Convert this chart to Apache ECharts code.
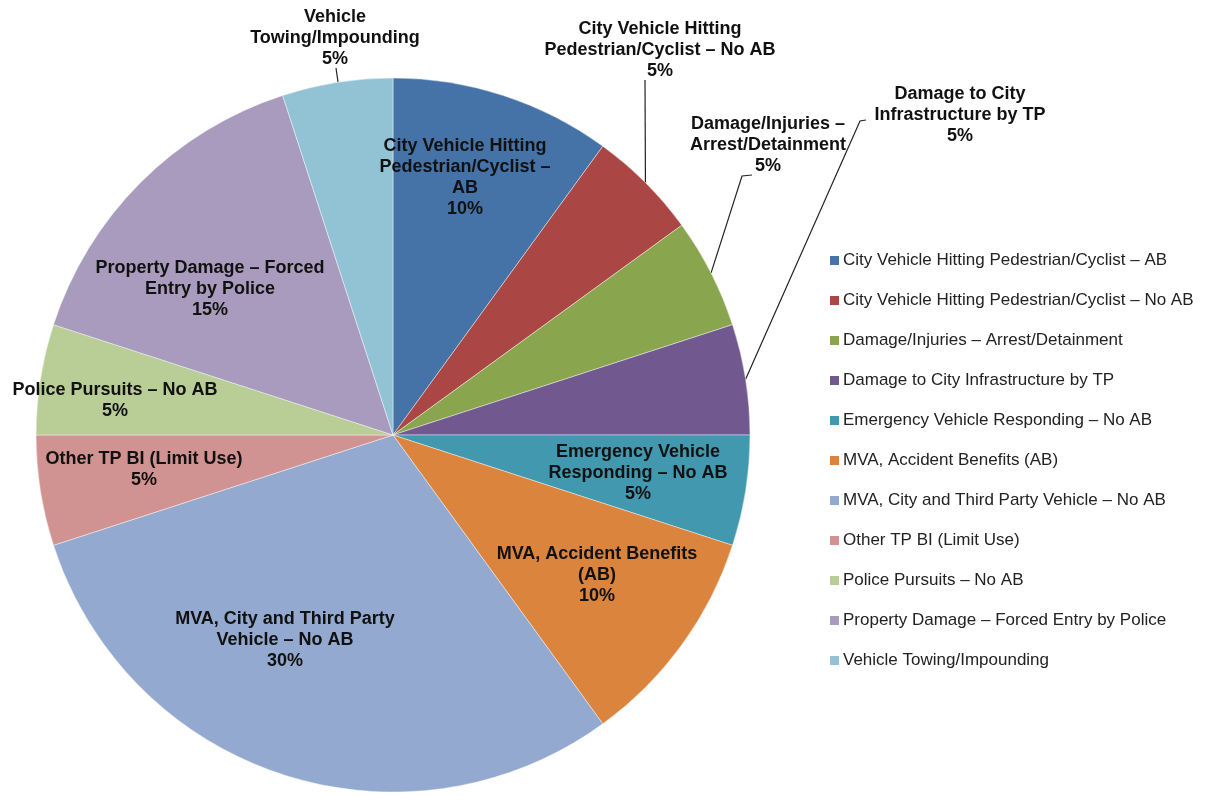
<!DOCTYPE html>
<html>
<head>
<meta charset="utf-8">
<script src="https://cdn.jsdelivr.net/npm/echarts@6/dist/echarts.min.js"></script>
<style>
  html, body { margin: 0; padding: 0; background: #fff; }
  #chart { width: 1212px; height: 796px; }
</style>
</head>
<body>
<div id="chart"></div>
<script>
// data
const categories = [
  'City Vehicle Hitting Pedestrian/Cyclist – AB',
  'City Vehicle Hitting Pedestrian/Cyclist – No AB',
  'Damage/Injuries – Arrest/Detainment',
  'Damage to City Infrastructure by TP',
  'Emergency Vehicle Responding – No AB',
  'MVA, Accident Benefits (AB)',
  'MVA, City and Third Party Vehicle – No AB',
  'Other TP BI (Limit Use)',
  'Police Pursuits – No AB',
  'Property Damage – Forced Entry by Police',
  'Vehicle Towing/Impounding'
];
const shares = [10, 5, 5, 5, 5, 10, 30, 5, 5, 15, 5];
// wrapped text used for the slice labels
const labelLines = [
  'City Vehicle Hitting\nPedestrian/Cyclist –\nAB',
  'City Vehicle Hitting\nPedestrian/Cyclist – No AB',
  'Damage/Injuries –\nArrest/Detainment',
  'Damage to City\nInfrastructure by TP',
  'Emergency Vehicle\nResponding – No AB',
  'MVA, Accident Benefits\n(AB)',
  'MVA, City and Third Party\nVehicle – No AB',
  'Other TP BI (Limit Use)',
  'Police Pursuits – No AB',
  'Property Damage – Forced\nEntry by Police',
  'Vehicle\nTowing/Impounding'
];

const colors = ['#4572a7', '#aa4643', '#89a54e', '#71588f', '#4198af', '#db843d',
  '#93a9cf', '#d19392', '#b9cd96', '#a99bbd', '#92c3d4'];

// layout
const CX = 393, CY = 435, R = 357;
const outsideIdx = [1, 2, 3, 10];
// label block centres, leader line elbow/end points
const labelPos = {
  0: [465, 178], 1: [660, 50], 2: [768, 145], 3: [960, 115],
  4: [638, 473], 5: [597, 575], 6: [285, 640], 7: [144, 470],
  8: [115, 401], 9: [210, 289], 10: [335, 38]
};
const leader = {
  1: [[645, 80], [645, 80]],
  2: [[742, 176], [752, 175]],
  3: [[860, 121], [866, 120]],
  10: [[336, 68], [336, 68]]
};

const total = shares.reduce((a, b) => a + b, 0);
function edgePoint(i) {
  let before = 0;
  for (let k = 0; k < i; k++) before += shares[k];
  const a = (before + shares[i] / 2) / total * Math.PI * 2;
  return [CX + R * Math.sin(a), CY - R * Math.cos(a)];
}

const chart = echarts.init(document.getElementById('chart'));
chart.setOption({
  animation: false,
  color: colors,
  legend: {
    orient: 'vertical',
    left: 830,
    top: 252,
    padding: 0,
    itemWidth: 9,
    itemHeight: 9,
    itemGap: 23,
    itemStyle: { borderWidth: 0 },
    icon: 'rect',
    textStyle: {
      fontFamily: 'Liberation Sans, Arial, sans-serif',
      fontSize: 17,
      lineHeight: 17,
      color: '#222',
      padding: [0, 0, 0, -1]
    },
    data: categories
  },
  series: [{
    type: 'pie',
    center: [CX, CY],
    radius: [0, R],
    startAngle: 90,
    clockwise: true,
    avoidLabelOverlap: false,
    itemStyle: { borderColor: 'rgba(255,255,255,0.6)', borderWidth: 0.7 },
    label: {
      show: true,
      position: 'inside',
      fontFamily: 'Liberation Sans, Arial, sans-serif',
      fontWeight: 'bold',
      fontSize: 18,
      lineHeight: 21,
      color: '#111',
      align: 'center',
      formatter: p => labelLines[p.dataIndex] + '\n' + p.value + '%'
    },
    labelLine: { show: false },
    labelLayout: function (params) {
      const i = params.dataIndex;
      const pos = labelPos[i];
      const out = { x: pos[0], y: pos[1], align: 'center', verticalAlign: 'middle' };
      if (leader[i]) {
        let start;
        if (i === 10) start = [338, 82];
        else start = (params.labelLinePoints && params.labelLinePoints[0]) || edgePoint(i);
        out.labelLinePoints = [start, leader[i][0], leader[i][1]];
      }
      return out;
    },
    data: categories.map((name, i) => {
      const d = { name: name, value: shares[i] };
      if (outsideIdx.indexOf(i) >= 0) {
        d.label = { position: 'outside' };
        d.labelLine = { show: true, lineStyle: { color: '#222', width: 1.2 } };
      }
      return d;
    })
  }]
});
</script>
</body>
</html>
